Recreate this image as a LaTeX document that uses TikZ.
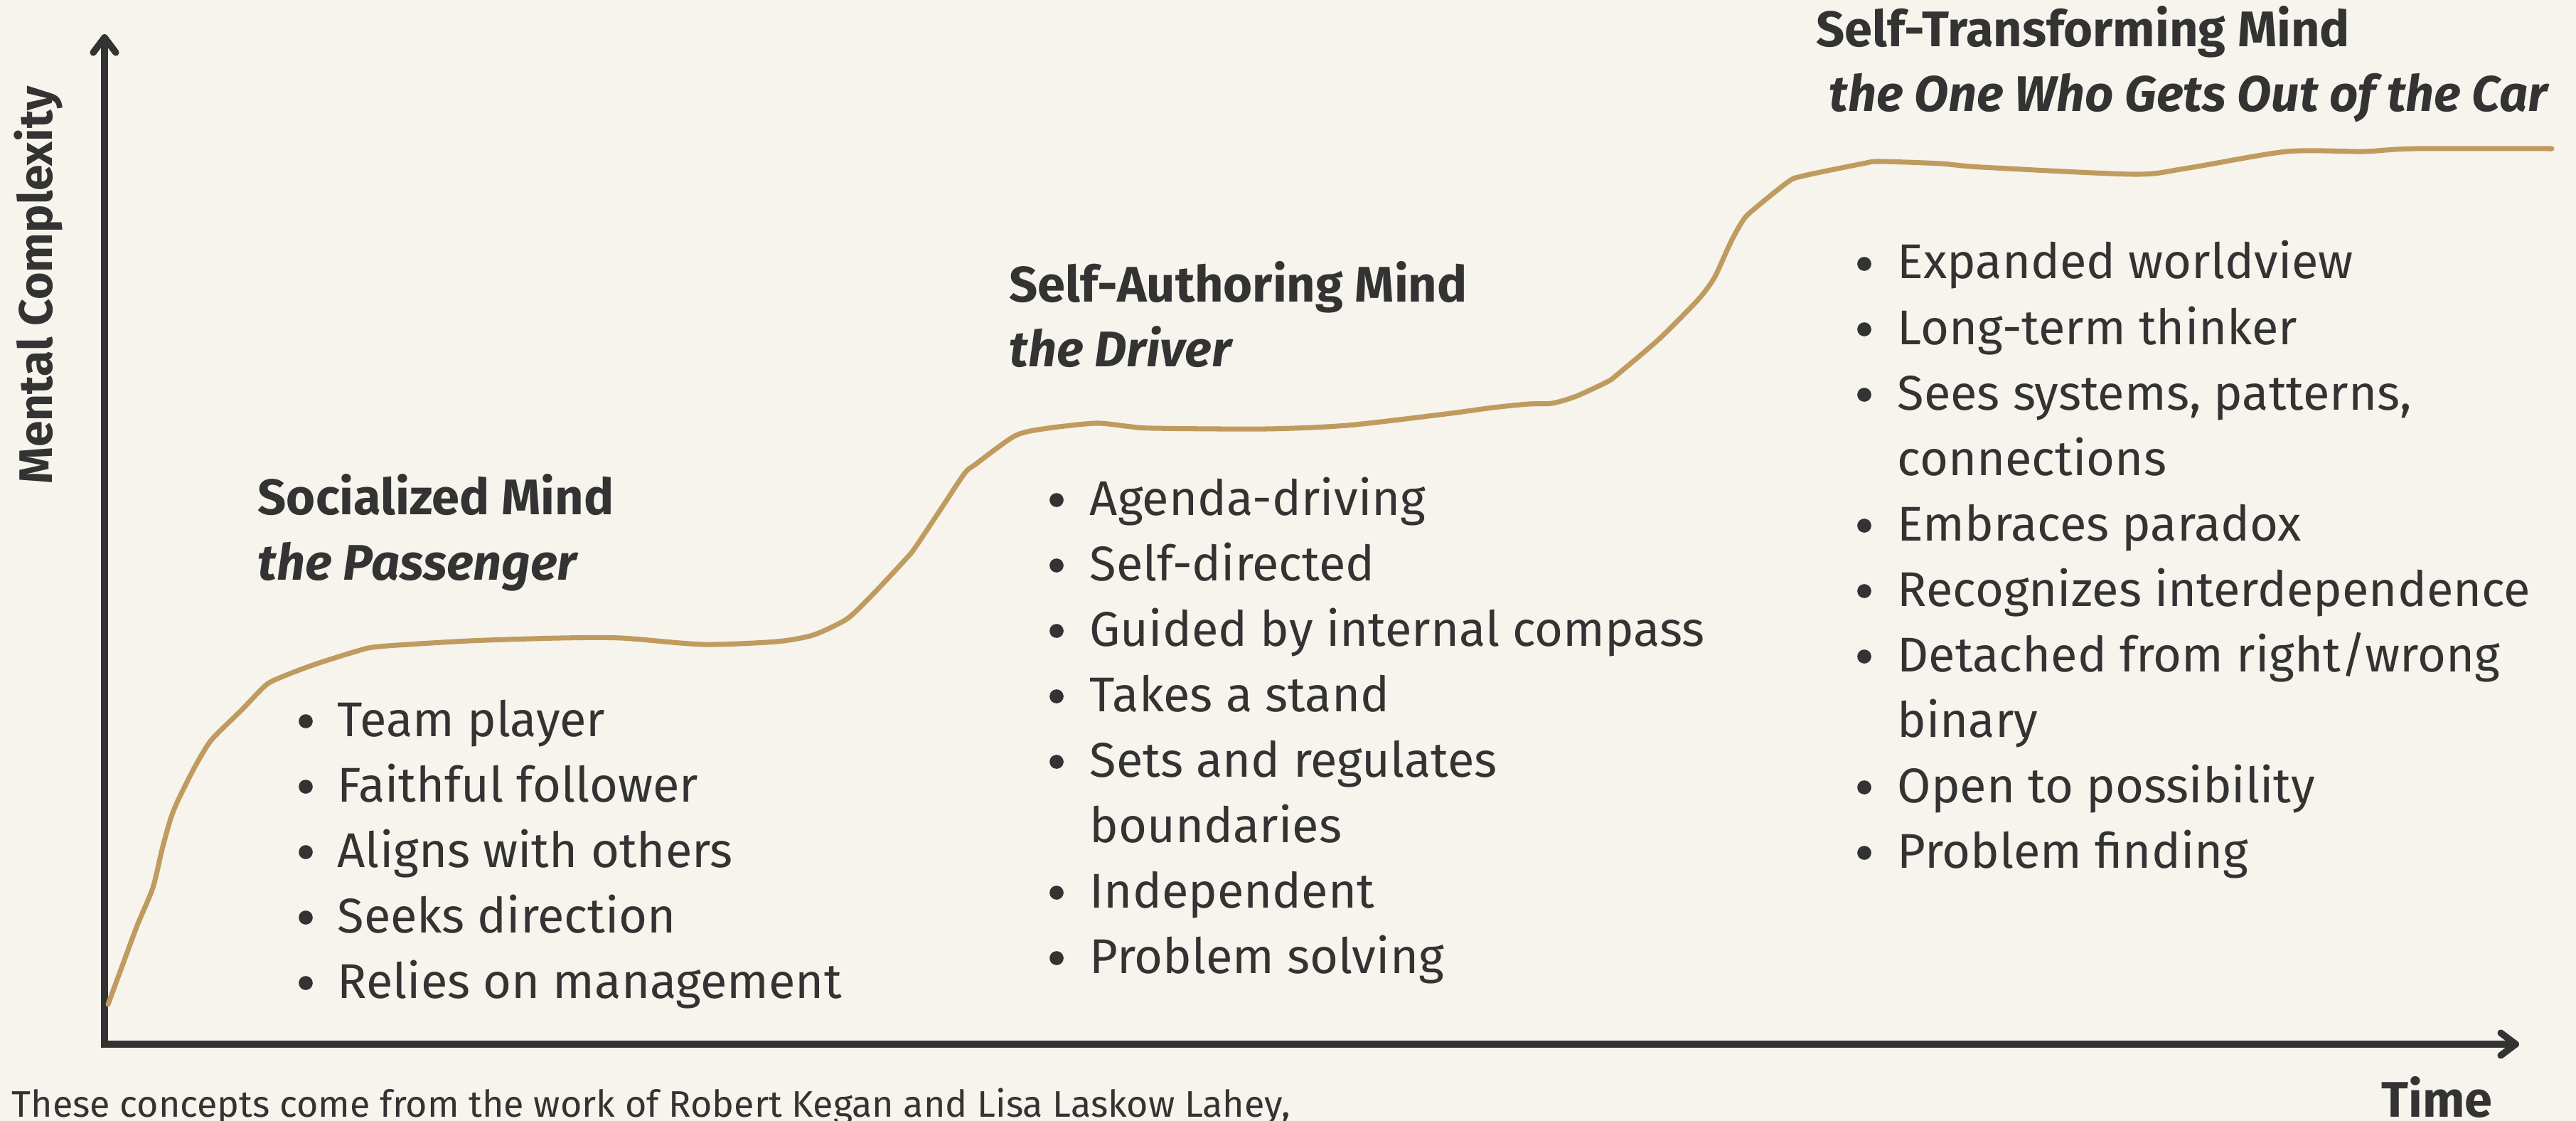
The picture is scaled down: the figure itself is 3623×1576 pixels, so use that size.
\documentclass[tikz,border=0pt]{standalone}
\usepackage{fontspec}
\setmainfont{Fira Sans}
\usepackage{tikz}
\usetikzlibrary{arrows.meta}
\definecolor{paper}{HTML}{F6F4EC}
\definecolor{ink}{HTML}{333333}
\definecolor{gold}{HTML}{BF9B5F}
\tikzset{>={Straight Barb[length=6pt,width=9pt,round]}}
\tikzset{
  axis/.style={ink, line width=2.7pt, line join=miter},
  growth/.style={gold, line width=2pt, line cap=round, line join=round},
  title/.style={anchor=base west, inner sep=0pt, text=ink, font=\fontsize{20}{24}\selectfont\bfseries},
  subtitle/.style={title, font=\fontsize{20}{24}\selectfont\bfseries\itshape},
  item/.style={anchor=base west, inner sep=0pt, text=ink, font=\fontsize{19.5}{23}\selectfont},
  dot/.style={circle, fill=ink, inner sep=0pt, minimum size=5.6pt},
}

\begin{document}
\begin{tikzpicture}[x=0.01cm, y=-0.01cm]
    \fill[paper] (0,0) rectangle (3623,1576);
    \useasboundingbox (0,0) rectangle (3623,1576);
    \clip (0,0) rectangle (3623,1576);

    % axes
    \coordinate (O) at (147,1468);
    \coordinate (ytop) at (147,48);
    \coordinate (xend) at (3543,1468);
    \draw[axis, <->] (ytop) -- (O) -- (xend);

    \node[title, anchor=base, rotate=90, font=\fontsize{18.8}{22}\selectfont\bfseries]
      (ylab) at (73,401) {Mental Complexity};
    \node[title] (xlab) at (3349,1570) {Time};
    \node[item, font=\fontsize{14.8}{17}\selectfont] (note) at (16,1570)
      {These concepts come from the work of Robert Kegan and Lisa Laskow Lahey,};

    % growth curve
    \draw[growth] plot[smooth, tension=0.45] coordinates {
      (152,1412) (173,1355) (193,1301) (215,1248) (228,1194) (240,1151)
      (250,1126) (273,1080) (293,1046) (307,1030) (340,998) (373,964)
      (393,953) (440,935) (500,916) (533,909) (660,901) (788,897)
      (874,897) (989,906) (1092,902) (1143,893) (1183,875) (1200,863)
      (1233,830) (1273,787) (1287,770) (1327,710) (1357,665) (1373,652)
      (1427,613) (1467,603) (1540,595) (1583,599) (1620,602) (1780,603)
      (1895,598) (2033,582) (2100,573) (2150,568) (2183,567) (2217,557)
      (2260,537) (2273,528) (2333,477) (2383,427) (2400,407) (2413,387)
      (2433,343) (2447,317) (2460,300) (2513,257) (2533,248) (2620,230)
      (2643,227) (2729,230) (2787,235) (3001,245) (3073,237) (3216,213)
      (3324,213) (3395,209) (3589,209)};

    % socialized mind
    \node[title] (soc) at (362,723) {Socialized Mind};
    \node[subtitle] (soc-sub) at (362,815) {the Passenger};
    \foreach \b/\txt [count=\i] in {1/Team player, 1/Faithful follower,
        1/Aligns with others, 1/Seeks direction, 1/Relies on management} {
      \node[item] (soc-\i) at (474,943+92*\i) {\txt};
      \ifnum\b=1 \node[dot] (soc-dot-\i) at (430,922+92*\i) {}; \fi
    }

    % self-authoring mind
    \node[title] (auth) at (1419,424) {Self-Authoring Mind};
    \node[subtitle] (auth-sub) at (1419,515) {the Driver};
    \foreach \b/\txt [count=\i] in {1/Agenda-driving, 1/Self-directed,
        1/Guided by internal compass, 1/Takes a stand, 1/Sets and regulates,
        0/boundaries, 1/Independent, 1/Problem solving} {
      \node[item] (auth-\i) at (1532,632+92*\i) {\txt};
      \ifnum\b=1 \node[dot] (auth-dot-\i) at (1486,611+92*\i) {}; \fi
    }

    % self-transforming mind
    \node[title] (trans) at (2554,66) {Self-Transforming Mind};
    \node[subtitle] (trans-sub) at (2572,157) {the One Who Gets Out of the Car};
    \foreach \b/\txt [count=\i] in {1/Expanded worldview, 1/Long-term thinker,
        1/{Sees systems, patterns,}, 0/connections, 1/Embraces paradox,
        1/Recognizes interdependence, 1/{Detached from right/wrong}, 0/binary,
        1/Open to possibility, 1/Problem finding} {
      \node[item] (trans-\i) at (2668,300+92*\i) {\txt};
      \ifnum\b=1 \node[dot] (trans-dot-\i) at (2622,279+92*\i) {}; \fi
    }
\end{tikzpicture}
\end{document}
